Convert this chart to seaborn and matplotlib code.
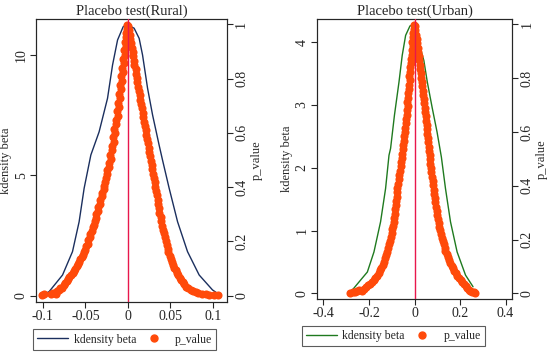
import numpy as np
import pandas as pd
import matplotlib
matplotlib.use("Agg")
import matplotlib.pyplot as plt
from matplotlib.lines import Line2D
import seaborn as sns

# ---- Rural: kernel density of placebo beta ----
rural_kd_x = [-0.0985, -0.0926, -0.0768, -0.0651, -0.0573, -0.0514, -0.0435, -0.0338,
              -0.0239, -0.0180, -0.0121, -0.0055, -0.0015, 0.0074, 0.0133, 0.0173,
              0.0232, 0.0291, 0.0368, 0.0408, 0.0486, 0.0585, 0.0702, 0.0839, 0.0996, 0.1055]
rural_kd_y = [0.06, 0.17, 0.86, 1.83, 3.07, 4.46, 5.84, 6.80, 8.19, 9.57, 10.61, 11.16,
              11.26, 11.10, 10.68, 9.99, 8.61, 7.50, 6.25, 5.63, 4.46, 3.07, 1.83, 0.86, 0.24, 0.10]

# ---- Rural: beta vs p_value scatter ----
rural_beta = [
    -0.1005, -0.0985, -0.0900, -0.0875, -0.0850, -0.0838, -0.0810, -0.0795, -0.0770, -0.0755,
    -0.0738, -0.0720, -0.0700, -0.0690, -0.0668, -0.0650, -0.0632, -0.0618, -0.0600, -0.0592,
    -0.0570, -0.0562, -0.0540, -0.0528, -0.0520, -0.0500, -0.0492, -0.0470, -0.0465, -0.0445,
    -0.0440, -0.0420, -0.0415, -0.0398, -0.0392, -0.0372, -0.0372, -0.0350, -0.0348, -0.0328,
    -0.0325, -0.0305, -0.0305, -0.0285, -0.0282, -0.0265, -0.0262, -0.0242, -0.0245, -0.0222,
    -0.0225, -0.0202, -0.0210, -0.0185, -0.0190, -0.0168, -0.0175, -0.0150, -0.0160, -0.0135,
    -0.0145, -0.0120, -0.0128, -0.0105, -0.0115, -0.0092, -0.0102, -0.0080, -0.0088, -0.0068,
    -0.0078, -0.0058, -0.0066, -0.0047, -0.0056, -0.0037, -0.0045, -0.0027, -0.0034, -0.0018,
    -0.0022, -0.0008, -0.0005,
    0.0005, 0.0012, 0.0025, 0.0022, 0.0040, 0.0045, 0.0058, 0.0062, 0.0075, 0.0078,
    0.0092, 0.0095, 0.0108, 0.0112, 0.0125, 0.0128, 0.0142, 0.0145, 0.0158, 0.0162,
    0.0175, 0.0180, 0.0192, 0.0198, 0.0210, 0.0215, 0.0228, 0.0232, 0.0245, 0.0250,
    0.0262, 0.0268, 0.0280, 0.0285, 0.0298, 0.0302, 0.0315, 0.0320, 0.0332, 0.0338,
    0.0350, 0.0355, 0.0368, 0.0372, 0.0385, 0.0392, 0.0405, 0.0410, 0.0425, 0.0432,
    0.0448, 0.0455, 0.0470, 0.0478, 0.0495, 0.0505, 0.0520, 0.0532, 0.0548, 0.0562,
    0.0578, 0.0595, 0.0612, 0.0630, 0.0652, 0.0665, 0.0690, 0.0712, 0.0740, 0.0768,
    0.0800, 0.0830, 0.0870, 0.0920, 0.0960, 0.1010, 0.1058]
rural_p = [
    0.002, 0.005, 0.008, 0.010, 0.007, 0.016, 0.022, 0.030, 0.028, 0.040,
    0.048, 0.055, 0.062, 0.070, 0.075, 0.084, 0.090, 0.100, 0.108, 0.118,
    0.124, 0.134, 0.142, 0.150, 0.162, 0.170, 0.182, 0.192, 0.205, 0.215,
    0.228, 0.238, 0.252, 0.262, 0.276, 0.288, 0.302, 0.312, 0.326, 0.338,
    0.352, 0.366, 0.380, 0.392, 0.406, 0.420, 0.434, 0.448, 0.462, 0.476,
    0.490, 0.505, 0.520, 0.536, 0.552, 0.568, 0.585, 0.600, 0.616, 0.632,
    0.648, 0.664, 0.680, 0.696, 0.712, 0.728, 0.744, 0.760, 0.776, 0.792,
    0.808, 0.824, 0.840, 0.856, 0.872, 0.888, 0.904, 0.920, 0.936, 0.952,
    0.968, 0.982, 0.996,
    0.994, 0.978, 0.962, 0.946, 0.930, 0.914, 0.898, 0.882, 0.866, 0.850,
    0.834, 0.818, 0.802, 0.786, 0.770, 0.754, 0.738, 0.722, 0.706, 0.690,
    0.674, 0.658, 0.642, 0.626, 0.610, 0.594, 0.578, 0.562, 0.546, 0.530,
    0.514, 0.498, 0.482, 0.466, 0.450, 0.434, 0.418, 0.402, 0.386, 0.370,
    0.354, 0.338, 0.322, 0.306, 0.290, 0.274, 0.258, 0.244, 0.230, 0.216,
    0.202, 0.188, 0.174, 0.160, 0.148, 0.136, 0.125, 0.114, 0.104, 0.094,
    0.085, 0.075, 0.066, 0.058, 0.050, 0.042, 0.034, 0.028, 0.022, 0.018,
    0.014, 0.010, 0.008, 0.005, 0.004, 0.002, 0.002]

# ---- Urban: kernel density of placebo beta ----
urban_kd_x = [-0.281, -0.273, -0.237, -0.207, -0.178, -0.149, -0.127, -0.112, -0.105,
              -0.088, -0.068, -0.054, -0.039, -0.020, -0.006, 0.012, 0.026, 0.041, 0.056,
              0.078, 0.099, 0.118, 0.136, 0.158, 0.187, 0.224, 0.257]
urban_kd_y = [0.025, 0.053, 0.21, 0.34, 0.66, 1.14, 1.67, 2.20, 2.31, 2.84, 3.37, 3.79,
              4.11, 4.26, 4.28, 4.11, 3.90, 3.71, 3.37, 2.95, 2.57, 2.17, 1.67, 1.14,
              0.66, 0.29, 0.105]

# ---- Urban: beta vs p_value scatter ----
urban_beta = [
    -0.283, -0.272, -0.262, -0.252, -0.242, -0.232, -0.222, -0.212, -0.204, -0.196,
    -0.188, -0.180, -0.172, -0.166, -0.158, -0.152, -0.145, -0.140, -0.134, -0.130,
    -0.124, -0.120, -0.115, -0.112, -0.107, -0.104, -0.100, -0.097, -0.094, -0.092,
    -0.088, -0.087, -0.084, -0.083, -0.080, -0.079, -0.076, -0.075, -0.071, -0.070,
    -0.066, -0.065, -0.061, -0.060, -0.056, -0.055, -0.051, -0.050, -0.047, -0.046,
    -0.042, -0.042, -0.038, -0.038, -0.034, -0.035, -0.030, -0.032, -0.027, -0.029,
    -0.024, -0.026, -0.021, -0.023, -0.018, -0.020, -0.015, -0.017, -0.012, -0.013,
    -0.008, -0.010, -0.005, -0.006, -0.002, -0.001,
    0.001, 0.004, 0.006, 0.009, 0.010, 0.014, 0.015, 0.019, 0.020, 0.024,
    0.025, 0.029, 0.030, 0.033, 0.034, 0.037, 0.038, 0.041, 0.042, 0.045,
    0.046, 0.049, 0.050, 0.053, 0.054, 0.057, 0.058, 0.061, 0.062, 0.065,
    0.066, 0.069, 0.070, 0.073, 0.074, 0.077, 0.079, 0.082, 0.084, 0.087,
    0.089, 0.092, 0.094, 0.097, 0.100, 0.103, 0.106, 0.109, 0.113, 0.116,
    0.120, 0.124, 0.128, 0.132, 0.136, 0.141, 0.146, 0.151, 0.157, 0.163,
    0.169, 0.175, 0.182, 0.188, 0.195, 0.202, 0.209, 0.216, 0.224, 0.231,
    0.238, 0.245, 0.252, 0.259, 0.266]
urban_p = [
    0.003, 0.005, 0.004, 0.008, 0.012, 0.010, 0.018, 0.022, 0.030, 0.036,
    0.042, 0.050, 0.058, 0.066, 0.076, 0.086, 0.096, 0.106, 0.118, 0.130,
    0.142, 0.155, 0.168, 0.182, 0.196, 0.210, 0.224, 0.238, 0.252, 0.266,
    0.280, 0.296, 0.312, 0.328, 0.344, 0.360, 0.376, 0.392, 0.408, 0.424,
    0.440, 0.456, 0.472, 0.488, 0.504, 0.520, 0.536, 0.552, 0.568, 0.584,
    0.600, 0.616, 0.632, 0.648, 0.664, 0.680, 0.696, 0.712, 0.728, 0.744,
    0.760, 0.776, 0.792, 0.808, 0.824, 0.840, 0.856, 0.872, 0.888, 0.904,
    0.920, 0.936, 0.952, 0.968, 0.984, 0.997,
    0.994, 0.978, 0.962, 0.946, 0.930, 0.914, 0.898, 0.882, 0.866, 0.850,
    0.834, 0.818, 0.802, 0.786, 0.770, 0.754, 0.738, 0.722, 0.706, 0.690,
    0.674, 0.658, 0.642, 0.626, 0.610, 0.594, 0.578, 0.562, 0.546, 0.530,
    0.514, 0.498, 0.482, 0.466, 0.450, 0.434, 0.418, 0.402, 0.386, 0.370,
    0.354, 0.338, 0.322, 0.306, 0.290, 0.276, 0.262, 0.248, 0.234, 0.220,
    0.206, 0.194, 0.182, 0.170, 0.158, 0.146, 0.135, 0.124, 0.113, 0.103,
    0.093, 0.084, 0.075, 0.066, 0.058, 0.050, 0.042, 0.034, 0.026, 0.020,
    0.014, 0.010, 0.006, 0.004, 0.003]

rural_xticks = [-0.1, -0.05, 0, 0.05, 0.1]
rural_yticks = [0, 5, 10]
urban_xticks = [-0.4, -0.2, 0, 0.2, 0.4]
urban_yticks = [0, 1, 2, 3, 4]
p_ticks = [0, 0.2, 0.4, 0.6, 0.8, 1]

sns.set_style("ticks")
plt.rcParams['font.family'] = ['Liberation Serif', 'DejaVu Serif']
plt.rcParams['axes.linewidth'] = 0.8

ORANGE = '#ff4a0a'
RED = '#e8174c'


def panel(fig, rect, kd_x, kd_y, beta, pval, line_color, title,
          xlim, ylim, plim, xticks, yticks, leg_center):
    ax = fig.add_axes(rect)
    kd = pd.DataFrame({'x': kd_x, 'y': kd_y})
    sns.lineplot(data=kd, x='x', y='y', ax=ax, color=line_color, lw=1.0,
                 sort=False, estimator=None)
    ax.set_xlim(*xlim)
    ax.set_ylim(*ylim)
    ax.set_xticks(xticks)
    ax.set_xticklabels([f'{t:g}' for t in xticks])
    ax.set_yticks(yticks)
    ax.set_xlabel('')
    ax.set_ylabel('kdensity beta', fontsize=9, labelpad=2)
    ax.set_title(title, fontsize=10.5, pad=3)
    ax.tick_params(axis='both', labelsize=10, length=4, width=0.8, pad=2)
    ax.tick_params(axis='y', labelrotation=90)
    for lab in ax.get_yticklabels():
        lab.set_va('center')

    ax2 = ax.twinx()
    sc = pd.DataFrame({'beta': beta, 'p': pval})
    sns.scatterplot(data=sc, x='beta', y='p', ax=ax2, color=ORANGE, s=34,
                    linewidth=0, alpha=1, zorder=2)
    ax2.axvline(0, color=RED, lw=1.0, zorder=3)
    ax2.set_ylim(*plim)
    ax2.set_yticks(p_ticks)
    ax2.set_yticklabels([f'{t:g}' for t in p_ticks])
    ax2.set_ylabel('p_value', fontsize=9, labelpad=2)
    ax2.tick_params(axis='y', labelsize=10, length=4, width=0.8, pad=2,
                    labelrotation=90)
    for lab in ax2.get_yticklabels():
        lab.set_va('center')
    ax2.set_xlim(*xlim)

    handles = [Line2D([], [], color=line_color, lw=1.0),
               Line2D([], [], color=ORANGE, marker='o', lw=0, markersize=5)]
    leg = fig.legend(handles, ['kdensity beta', 'p_value'], loc='center',
                     bbox_to_anchor=leg_center, ncol=2, fontsize=8.5,
                     frameon=True, fancybox=False, handlelength=2.6,
                     columnspacing=0.15, handletextpad=0.5, borderpad=0.35,
                     borderaxespad=0)
    leg.get_frame().set_edgecolor('#333333')
    leg.get_frame().set_linewidth(0.8)
    return ax, ax2


fig = plt.figure(figsize=(5.5, 3.53), dpi=100)

panel(fig, [0.0655, 0.1445, 0.347, 0.8015], rural_kd_x, rural_kd_y,
      rural_beta, rural_p, '#1b2f5e', 'Placebo test(Rural)',
      (-0.108, 0.1165), (-0.26, 11.48), (-0.023, 1.0195),
      rural_xticks, rural_yticks, (0.2267, 0.038))

panel(fig, [0.5764, 0.153, 0.3545, 0.793], urban_kd_x, urban_kd_y,
      urban_beta, urban_p, '#1f7a1f', 'Placebo test(Urban)',
      (-0.428, 0.428), (-0.09, 4.37), (-0.021, 1.02),
      urban_xticks, urban_yticks, (0.715, 0.048))

fig.savefig('out.png', dpi=100)
